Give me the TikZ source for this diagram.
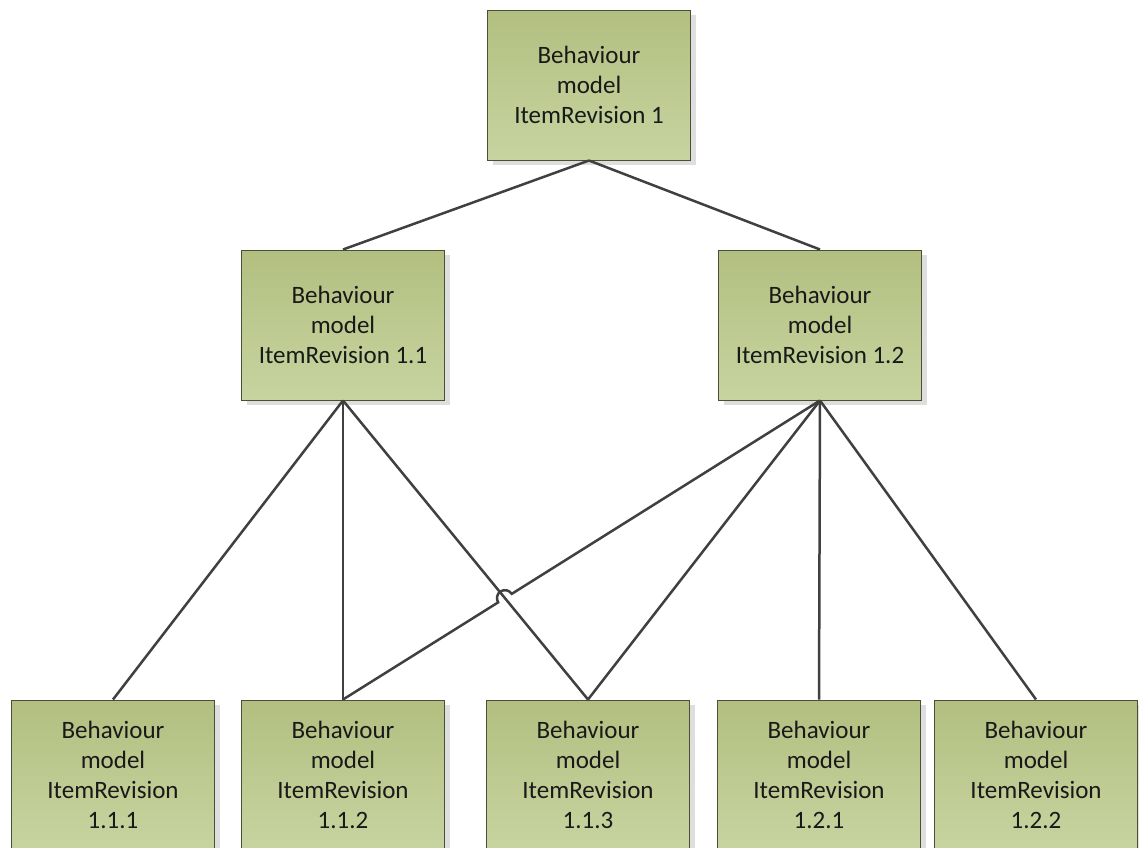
\documentclass[tikz,border=0pt]{standalone}
\usepackage{fontspec}
\setmainfont{Carlito}
\usetikzlibrary{calc,shadows}
\definecolor{boxtop}{RGB}{178,191,128}
\definecolor{boxbot}{RGB}{200,212,160}
\definecolor{boxline}{RGB}{72,80,56}
\definecolor{linkcol}{RGB}{64,64,64}
\definecolor{shadowcol}{RGB}{222,222,222}
\begin{document}
\begin{tikzpicture}[x=1pt,y=1pt,
  revbox/.style={draw=boxline, line width=1pt, top color=boxtop, bottom color=boxbot,
    minimum width=203pt, minimum height=150pt, inner sep=0pt, align=center,
    text=black!90, font=\fontsize{25}{30}\selectfont,
    general shadow={fill=shadowcol, shadow xshift=5pt, shadow yshift=-5pt}},
  link/.style={draw=linkcol, line width=2.5pt}]
\useasboundingbox (0,0) rectangle (1139,-847);
\clip (0,0) rectangle (1139,-847);

% revision tree
\node[revbox] (r1)   at (589,-85)  {Behaviour\\model\\ItemRevision 1};
\node[revbox] (r11)  at (343,-325) {Behaviour\\model\\ItemRevision 1.1};
\node[revbox] (r12)  at (820,-325) {Behaviour\\model\\ItemRevision 1.2};
\node[revbox] (r111) at (113,-775) {Behaviour\\model\\ItemRevision\\1.1.1};
\node[revbox] (r112) at (343,-775) {Behaviour\\model\\ItemRevision\\1.1.2};
\node[revbox] (r113) at (588,-775) {Behaviour\\model\\ItemRevision\\1.1.3};
\node[revbox] (r121) at (819,-775) {Behaviour\\model\\ItemRevision\\1.2.1};
\node[revbox] (r122) at (1036,-775) {Behaviour\\model\\ItemRevision\\1.2.2};

% links
\draw[link] (r1.south) -- (r11.north);
\draw[link] (r1.south) -- (r12.north);
\draw[link] (r11.south) -- (r111.north);
\draw[link] (r11.south) -- (r112.north);
\draw[link] (r11.south) -- (r113.north);
\draw[link] (r12.south) -- (r113.north);
\draw[link] (r12.south) -- (r121.north);
\draw[link] (r12.south) -- (r122.north);
% crossing link with a line jump
\coordinate (X) at (intersection of r11.south--r113.north and r12.south--r112.north);
\draw[link] let \p1=($(r12.south)-(r112.north)$), \n1={atan2(\y1,\x1)} in
  (r112.north) -- ($(X)!8pt!(r112.north)$)
  arc[start angle=\n1+180, end angle=\n1, radius=8pt] -- (r12.south);
\end{tikzpicture}
\end{document}
